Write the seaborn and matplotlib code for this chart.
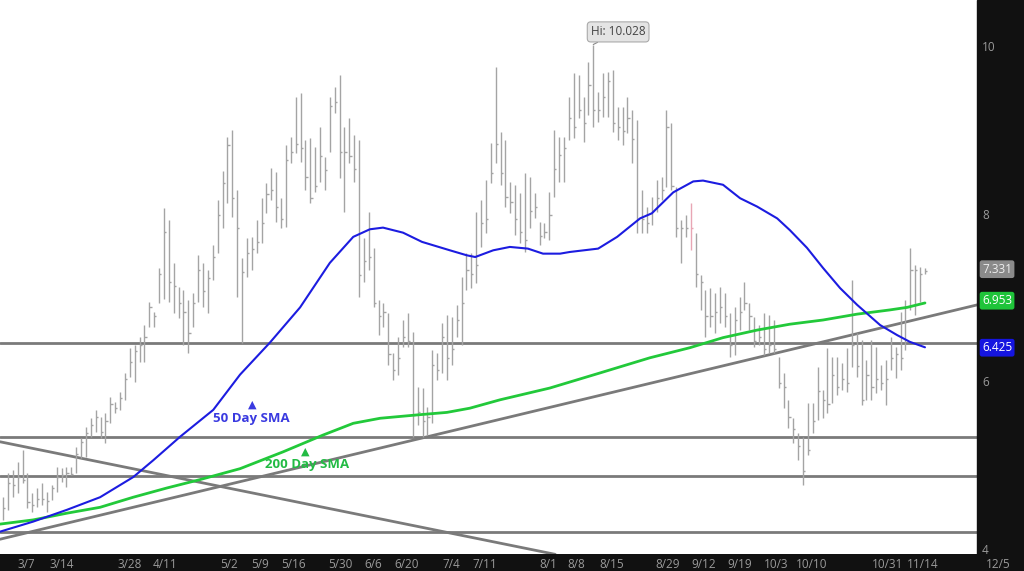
import numpy as np
import pandas as pd
import matplotlib
matplotlib.use("Agg")
import matplotlib.pyplot as plt
import seaborn as sns

# daily bars (high / low / close)
highs = [4.64, 4.93, 4.96, 5.06, 5.20, 4.93, 4.69, 4.75, 4.81, 4.70,
         4.79, 5.00, 4.99, 5.00, 5.00, 5.24, 5.35, 5.48, 5.58, 5.68,
         5.60, 5.64, 5.83, 5.77, 5.89, 6.12, 6.42, 6.45, 6.55, 6.69,
         6.96, 6.85, 7.37, 8.08, 7.94, 7.43,
         7.14, 7.11, 6.99, 7.07, 7.52, 7.43, 7.35, 7.64, 8.18, 8.53,
         8.93, 9.01, 8.30, 7.49, 7.73, 7.74, 7.94, 8.20, 8.38, 8.56,
         8.51, 8.20, 8.83, 8.93, 9.40, 9.45, 8.89, 8.92, 8.81, 9.05,
         8.69, 9.40, 9.52, 9.67, 9.05, 9.15, 8.95, 8.89, 7.73, 8.04,
         7.61, 6.99, 6.95, 6.83, 6.36, 6.55, 6.75, 6.83, 6.61, 5.95,
         5.94, 5.71, 6.39, 6.36, 6.71, 6.81, 6.79, 6.93, 7.26, 7.55,
         7.55, 8.04, 8.18, 8.42, 8.86, 9.76, 8.99, 8.89, 8.39, 8.36,
         8.26, 8.50, 8.45, 8.26, 7.92, 7.90, 8.27, 9.01, 8.93, 8.93,
         9.40, 9.69, 9.67, 9.40, 9.82, 10.028, 9.46, 9.69, 9.70, 9.73,
         9.29, 9.29, 9.40, 9.25, 9.13, 8.30, 8.10, 8.21, 8.42, 8.45,
         9.25, 9.10, 8.33, 7.94, 8.00, 8.14, 7.79, 7.29, 7.11, 7.13,
         7.07, 7.14, 7.07, 6.83, 6.90, 7.02, 7.20, 6.95, 6.79, 6.69,
         6.83, 6.81, 6.75, 6.31, 6.12, 5.80, 5.58, 5.40, 5.36, 5.76,
         5.76, 6.19, 5.92, 6.42, 6.31, 6.31, 6.24, 6.42, 7.23, 6.60,
         6.51, 6.27, 6.51, 6.43, 6.21, 6.27, 6.55, 6.43, 6.85, 6.99,
         7.61, 7.40, 7.38, 7.37]

lows = [4.37, 4.49, 4.64, 4.69, 4.81, 4.51, 4.46, 4.52, 4.55, 4.46,
        4.61, 4.70, 4.82, 4.76, 4.90, 4.93, 5.11, 5.12, 5.36, 5.42,
        5.35, 5.29, 5.52, 5.64, 5.68, 5.80, 6.07, 6.01, 6.25, 6.25,
        6.67, 6.67, 6.95, 7.00, 6.96, 6.83,
        6.77, 6.45, 6.36, 6.67, 6.96, 6.90, 6.83, 7.23, 7.55, 7.85,
        8.14, 7.98, 7.02, 6.48, 7.26, 7.35, 7.55, 7.67, 8.02, 8.18,
        7.92, 7.85, 7.86, 8.62, 8.74, 8.63, 8.30, 8.14, 8.27, 8.39,
        8.30, 8.75, 9.21, 8.44, 8.04, 8.62, 8.39, 7.02, 7.20, 7.35,
        6.90, 6.57, 6.67, 6.21, 6.04, 6.10, 6.43, 6.43, 5.36, 5.50,
        5.36, 5.38, 5.52, 6.04, 6.12, 6.04, 6.21, 6.55, 6.45, 7.11,
        7.13, 7.19, 7.62, 7.79, 8.38, 8.62, 8.36, 8.10, 8.02, 7.76,
        7.67, 7.56, 7.85, 7.96, 7.64, 7.73, 7.70, 8.21, 8.39, 8.39,
        8.89, 8.92, 9.15, 8.87, 9.19, 9.05, 9.11, 9.17, 9.17, 8.99,
        8.89, 8.83, 8.98, 8.62, 7.79, 7.79, 7.79, 7.88, 8.04, 8.18,
        8.33, 8.30, 7.74, 7.43, 7.74, 7.58, 7.14, 6.87, 6.55, 6.67,
        6.60, 6.71, 6.67, 6.31, 6.33, 6.63, 6.87, 6.63, 6.43, 6.45,
        6.33, 6.36, 6.36, 5.94, 5.70, 5.46, 5.29, 5.08, 4.79, 5.14,
        5.40, 5.56, 5.58, 5.64, 5.76, 5.86, 5.92, 5.89, 6.19, 6.07,
        5.74, 5.80, 5.80, 5.88, 5.92, 5.74, 6.15, 6.06, 6.15, 6.39,
        6.87, 6.81, 6.96, 7.30]

closes = [4.51, 4.81, 4.79, 4.88, 4.85, 4.58, 4.55, 4.62, 4.62, 4.60,
          4.75, 4.88, 4.90, 4.93, 4.92, 5.15, 5.30, 5.40, 5.50, 5.60,
          5.42, 5.55, 5.75, 5.70, 5.82, 6.05, 6.25, 6.38, 6.45, 6.55,
          6.90, 6.80, 7.30, 7.80, 7.20, 7.15,
          6.95, 6.85, 6.60, 6.95, 7.35, 7.10, 7.25, 7.50, 8.00, 8.38,
          8.83, 8.20, 7.85, 7.32, 7.55, 7.60, 7.68, 7.90, 8.25, 8.30,
          8.10, 7.95, 8.65, 8.75, 8.85, 8.80, 8.45, 8.20, 8.35, 8.70,
          8.54, 9.30, 9.35, 8.75, 8.75, 8.70, 8.55, 7.29, 7.45, 7.50,
          6.95, 6.80, 6.85, 6.35, 6.15, 6.30, 6.55, 6.50, 5.62, 5.65,
          5.55, 5.60, 6.21, 6.15, 6.55, 6.30, 6.40, 6.75, 6.95, 7.35,
          7.30, 7.40, 7.90, 7.95, 8.50, 8.85, 8.50, 8.22, 8.15, 7.95,
          7.80, 7.70, 8.05, 8.10, 7.75, 7.80, 8.00, 8.55, 8.72, 8.80,
          9.15, 9.05, 9.25, 9.10, 9.55, 9.25, 9.25, 9.40, 9.60, 9.10,
          9.05, 9.00, 9.15, 8.90, 7.95, 7.95, 7.90, 8.05, 8.20, 8.30,
          9.05, 8.35, 7.85, 7.85, 7.85, 7.85, 7.30, 7.20, 6.80, 6.80,
          6.85, 6.90, 6.80, 6.45, 6.75, 6.85, 6.95, 6.80, 6.50, 6.55,
          6.40, 6.45, 6.40, 6.00, 5.95, 5.60, 5.45, 5.25, 4.95, 5.20,
          5.55, 5.90, 5.80, 5.75, 6.10, 5.95, 6.05, 6.00, 6.45, 6.20,
          5.80, 6.10, 5.95, 6.05, 6.00, 6.05, 6.30, 6.35, 6.30, 6.90,
          7.35, 7.35, 7.30, 7.331]

pink_bar = 141  # the one reddish bar
hi_bar = 121

# moving averages (bar position, value)
sma50_pos = [-0.6, 6.2, 13.1, 19.9, 26.7, 30.8, 36.3, 43.1, 48.6, 54.7, 60.9, 67.0,
             71.8, 75.2, 77.9, 82.0, 85.9, 91.6, 95.1, 96.8, 100.5, 103.9, 107.6,
             110.7, 114.2, 116.2, 122.0, 125.9, 130.6, 133.0, 137.4, 141.5, 143.5,
             147.6, 151.1, 154.6, 158.7, 161.3, 164.8, 168.1, 171.6, 175.1, 179.8,
             183.3, 185.9, 189.0]
sma50_val = [4.23, 4.35, 4.49, 4.64, 4.88, 5.08, 5.36, 5.68, 6.10, 6.48, 6.90, 7.43,
             7.74, 7.83, 7.85, 7.79, 7.68, 7.58, 7.52, 7.50, 7.58, 7.62, 7.60,
             7.54, 7.54, 7.56, 7.60, 7.74, 7.96, 8.02, 8.27, 8.40, 8.41,
             8.36, 8.20, 8.10, 7.96, 7.82, 7.61, 7.37, 7.13, 6.93, 6.69,
             6.57, 6.49, 6.425]

sma200_pos = [-0.6, 6.2, 13.1, 19.9, 26.7, 33.6, 40.4, 48.6, 57.4, 65.6, 71.8, 77.3,
              84.9, 91.0, 95.7, 101.9, 112.1, 122.4, 132.6, 140.8, 147.6, 154.6,
              161.3, 168.1, 175.1, 181.8, 185.3, 189.0]
sma200_val = [4.32, 4.37, 4.45, 4.52, 4.64, 4.75, 4.85, 4.98, 5.18, 5.38, 5.52, 5.58,
              5.62, 5.65, 5.70, 5.80, 5.94, 6.12, 6.30, 6.42, 6.54, 6.63,
              6.70, 6.75, 6.82, 6.87, 6.90, 6.953]

# drawn support / resistance lines
flat_levels = [6.48, 5.36, 4.89, 4.23]
up_trend = ([-0.6, 199.7], [4.14, 6.93])
down_trend = ([-0.6, 113.2], [5.30, 3.96])

tick_pos = [4.7, 12.1, 26.0, 33.2, 46.3, 52.7, 59.5, 69.1, 75.9, 82.8, 92.0, 98.8,
            111.7, 117.5, 124.8, 136.3, 143.7, 151.1, 158.5, 165.8, 181.4, 188.6, 204.0]
tick_labels = ["3/7", "3/14", "3/28", "4/11", "5/2", "5/9", "5/16", "5/30", "6/6", "6/20",
               "7/4", "7/11", "8/1", "8/8", "8/15", "8/29", "9/12", "9/19", "10/3",
               "10/10", "10/31", "11/14", "12/5"]
price_ticks = [4, 6, 8, 10]

sns.set_theme(style="white")
plt.rcParams["font.family"] = ["Open Sans", "DejaVu Sans"]

bars = pd.DataFrame({"high": highs, "low": lows, "close": closes})
bars["pos"] = np.arange(len(bars))

fig = plt.figure(figsize=(10.24, 5.71), dpi=100, facecolor="#111111")
ax = fig.add_axes([0, 17 / 571, 1, 554 / 571])
ax.set_facecolor("white")
for s in ax.spines.values():
    s.set_visible(False)

x_left, x_plot_end, x_right = -0.615, 199.7, 209.3
ax.set_xlim(x_left, x_right)
ax.set_ylim(3.964, 10.56)

# trend lines
for lvl in flat_levels:
    ax.plot([x_left, x_plot_end], [lvl, lvl], color="#7a7a7a", lw=2, zorder=1)
ax.plot(up_trend[0], up_trend[1], color="#7a7a7a", lw=2, zorder=1)
ax.plot(down_trend[0], down_trend[1], color="#7a7a7a", lw=2, zorder=1)

# OHLC bars
cols = ["#a4a4a4"] * len(bars)
cols[pink_bar] = "#e8a6b4"
ax.vlines(bars["pos"], bars["low"], bars["high"], colors=cols, lw=1, zorder=2)
ax.hlines(bars["close"], bars["pos"], bars["pos"] + 0.45, colors=cols, lw=1, zorder=2)

# moving averages
sns.lineplot(x=sma200_pos, y=sma200_val, ax=ax, color="#22c93a", lw=2, sort=False, zorder=3)
sns.lineplot(x=sma50_pos, y=sma50_val, ax=ax, color="#1c1ce0", lw=1.5, sort=False, zorder=4)

# right price column
ax.axvspan(x_plot_end, x_right, color="#111111", zorder=5)
for p in price_ticks:
    ax.text(200.7, p, str(p), color="#9a9a9a", fontsize=8.5, va="center", ha="left", zorder=6)
ax.text(200.7, 7.355, "7.331", color="#eeeeee", fontsize=8.5, va="center", ha="left", zorder=6,
        bbox=dict(boxstyle="round,pad=0.2", fc="#8a8a8a", ec="none"))
ax.text(200.7, 6.98, "6.953", color="white", fontsize=8.5, va="center", ha="left", zorder=6,
        bbox=dict(boxstyle="round,pad=0.2", fc="#1fc43a", ec="none"))
ax.text(200.7, 6.42, "6.425", color="white", fontsize=8.5, va="center", ha="left", zorder=6,
        bbox=dict(boxstyle="round,pad=0.2", fc="#1515e0", ec="none"))

# annotations
ax.annotate("Hi: 10.028", xy=(hi_bar, 10.03), xytext=(126.1, 10.18),
            fontsize=8.5, color="#444444", ha="center", va="center", zorder=7,
            bbox=dict(boxstyle="round,pad=0.3", fc="#e4e4e4", ec="#aaaaaa", lw=0.8),
            arrowprops=dict(arrowstyle="-", color="#888888", lw=0.8, shrinkA=0, shrinkB=0))
ax.text(51.0, 5.74, "▲", color="#3a3ae0", fontsize=8, ha="center", va="center", zorder=7)
ax.text(51.0, 5.58, "50 Day SMA", color="#3a3ae0", fontsize=9.5, fontweight="bold",
        ha="center", va="center", zorder=7)
ax.text(61.9, 5.18, "▲", color="#22bb44", fontsize=8, ha="center", va="center", zorder=7)
ax.text(62.3, 5.03, "200 Day SMA", color="#22bb44", fontsize=9.5, fontweight="bold",
        ha="center", va="center", zorder=7)

ax.set_xticks(tick_pos, tick_labels)
ax.set_yticks([])
ax.tick_params(axis="x", colors="#9a9a9a", length=0, pad=3, labelsize=8.5)
ax.set_xlabel("")
ax.set_ylabel("")

fig.savefig("out.png", dpi=100, facecolor=fig.get_facecolor())
